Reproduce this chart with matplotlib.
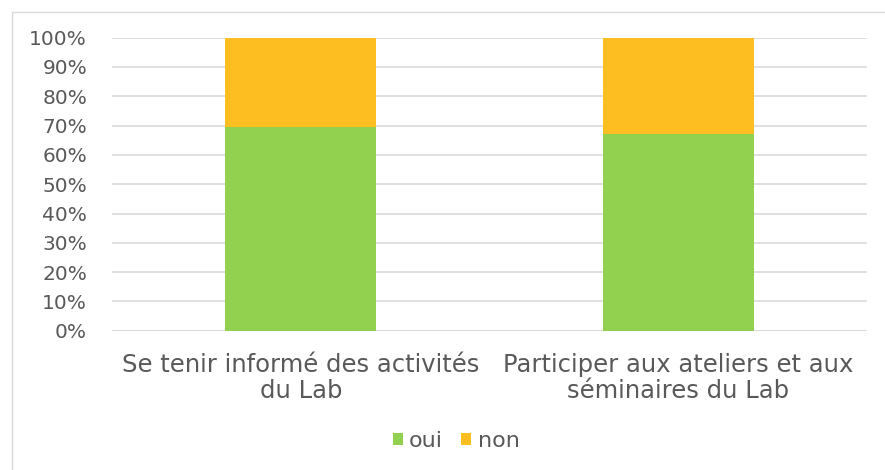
import matplotlib
matplotlib.use("Agg")
import matplotlib.pyplot as plt
from matplotlib.patches import Rectangle

plt.rcParams["font.family"] = ["DejaVu Sans"]

categories = ["Se tenir informé des activités\ndu Lab",
              "Participer aux ateliers et aux\nséminaires du Lab"]
oui = [69.6, 67.1]
non = [30.4, 32.9]
yticks = [0, 10, 20, 30, 40, 50, 60, 70, 80, 90, 100]
ytick_labels = [f"{v}%" for v in yticks]

green = "#92D050"
gold = "#FDBE22"
txt = "#595959"

fig = plt.figure(figsize=(8.85, 4.7), dpi=100)
fig.patches.append(Rectangle((12/885, -0.05), 1.0, 1.05 - 12/470,
                             transform=fig.transFigure, fill=False,
                             edgecolor="#D9D9D9", linewidth=1.0))
ax = fig.add_axes([112/885, 1 - 330.7/470, (867 - 112)/885, (330.7 - 37.7)/470])

x = list(range(len(categories)))
ax.bar(x, oui, width=0.4, color=green, label="oui", zorder=3)
ax.bar(x, non, width=0.4, bottom=oui, color=gold, label="non", zorder=3)

ax.set_xlim(-0.5, 1.5)
ax.set_ylim(0, 100)
ax.set_yticks(yticks)
ax.set_yticklabels(ytick_labels, fontsize=14.5, color=txt)
ax.set_xticks(x)
ax.set_xticklabels(categories, fontsize=17.5, color=txt, linespacing=1.12)
ax.tick_params(axis="both", length=0)
ax.tick_params(axis="x", pad=16)
ax.tick_params(axis="y", pad=18)
ax.yaxis.grid(True, color="#D9D9D9", linewidth=1.2, zorder=0)
for s in ax.spines.values():
    s.set_visible(False)
ax.axhline(0, color="#D9D9D9", linewidth=1.2, zorder=1)

leg = fig.legend(loc="center", bbox_to_anchor=(456/885, 1 - 441/470), ncol=2,
                 frameon=False, fontsize=16, handlelength=0.45, handleheight=0.45,
                 handletextpad=0.3, columnspacing=0.8, labelcolor=txt)

fig.savefig("out.png", dpi=100)
